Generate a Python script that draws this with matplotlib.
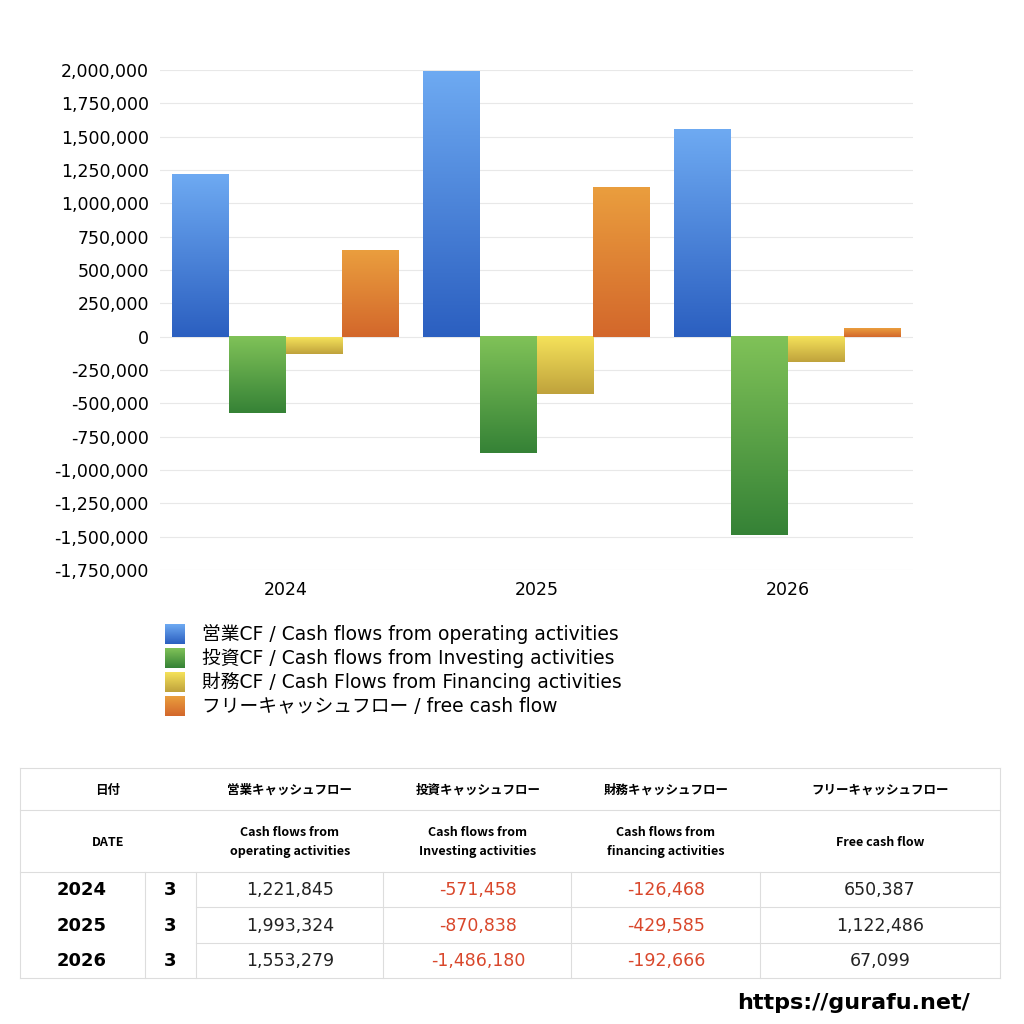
import matplotlib
matplotlib.use("Agg")
import matplotlib.pyplot as plt
import numpy as np
from matplotlib.colors import LinearSegmentedColormap
from matplotlib.lines import Line2D

plt.rcParams['font.family'] = ['DejaVu Sans', 'Noto Sans CJK JP']

years = ["2024", "2025", "2026"]
months = ["3", "3", "3"]
operating = [1221845, 1993324, 1553279]
investing = [-571458, -870838, -1486180]
financing = [-126468, -429585, -192666]
free_cf = [650387, 1122486, 67099]
series = [operating, investing, financing, free_cf]
legend_labels = ["営業CF / Cash flows from operating activities",
                 "投資CF / Cash flows from Investing activities",
                 "財務CF / Cash Flows from Financing activities",
                 "フリーキャッシュフロー / free cash flow"]
grads = [("#6eaaf2", "#2b5fc0"), ("#80c258", "#358236"),
         ("#f5e25a", "#bfa23c"), ("#ea9e3e", "#d3672b")]
hdr_jp = ["日付", "営業キャッシュフロー", "投資キャッシュフロー", "財務キャッシュフロー", "フリーキャッシュフロー"]
hdr_en = ["DATE", "Cash flows from\noperating activities", "Cash flows from\nInvesting activities",
          "Cash flows from\nfinancing activities", "Free cash flow"]

fig = plt.figure(figsize=(10.24, 10.24), dpi=100)
W = H = 1024
ax = fig.add_axes([160/W, 1-570/H, (913-160)/W, (570-70)/H])
x = np.arange(len(years))
bw = 0.226
for i, s in enumerate(series):
    bars = ax.bar(x + (i-1.5)*bw, s, bw, color="none", zorder=3)
    cmap = LinearSegmentedColormap.from_list("g", [grads[i][1], grads[i][0]])
    for b in bars:
        x0, y0, w, h = b.get_x(), b.get_y(), b.get_width(), b.get_height()
        y1 = y0 + h
        grad = np.linspace(0, 1, 256).reshape(-1, 1)
        ax.imshow(grad, cmap=cmap, aspect='auto', origin='lower',
                  extent=[x0, x0+w, min(y0, y1), max(y0, y1)], zorder=3)
ax.set_xlim(-0.5, 2.5)
ax.set_ylim(-1750000, 2000000)
ticks = np.arange(-1750000, 2000001, 250000)
ax.set_yticks(ticks)
ax.set_yticklabels([f"{t:,}" for t in ticks], fontsize=12.5)
ax.set_xticks(x)
ax.set_xticklabels(years, fontsize=12.5)
ax.grid(axis='y', color="#e8e8e8", lw=0.8, zorder=0)
for sp in ax.spines.values():
    sp.set_visible(False)
ax.tick_params(length=0, pad=8)
ax.set_aspect('auto')

# legend
for i, lab in enumerate(legend_labels):
    yc = 634 + i*24
    cmap = LinearSegmentedColormap.from_list("g", [grads[i][1], grads[i][0]])
    lax = fig.add_axes([165/W, 1-(yc+10)/H, 20/W, 20/H])
    lax.imshow(np.linspace(0, 1, 64).reshape(-1, 1), cmap=cmap, aspect='auto', origin='lower')
    lax.axis('off')
    fig.text(202/W, 1-yc/H, lab, fontsize=13.5, va='center', ha='left')

# table
def hl(y, x0=20, x1=1000):
    fig.add_artist(Line2D([x0/W, x1/W], [1-y/H, 1-y/H], color="#dddddd", lw=0.8))
def vl(xp, y0, y1):
    fig.add_artist(Line2D([xp/W, xp/W], [1-y0/H, 1-y1/H], color="#dddddd", lw=0.8))
for y in [768, 810, 872, 978]:
    hl(y)
hl(907, 196); hl(943, 196)
vl(20, 768, 978); vl(1000, 768, 978)
for xp in [145, 196, 383, 571, 760]:
    vl(xp, 872, 978)
centers = [108, 290, 478, 666, 880]
for c, t in zip(centers, hdr_jp):
    fig.text(c/W, 1-790/H, t, fontsize=9, weight='bold', ha='center', va='center',
             family=['Noto Sans CJK JP'])
for c, t in zip(centers, hdr_en):
    fig.text(c/W, 1-842/H, t, fontsize=9, weight='bold', ha='center', va='center', linespacing=1.5,
             family=['Noto Sans CJK JP'])
rows_y = [890, 926, 961]
for r in range(3):
    yy = 1-rows_y[r]/H
    fig.text(82/W, yy, years[r], fontsize=13, weight='bold', ha='center', va='center')
    fig.text(170/W, yy, months[r], fontsize=13, weight='bold', ha='center', va='center')
    for j, s in enumerate(series):
        v = s[r]
        fig.text([290, 478, 666, 880][j]/W, yy, f"{v:,}", fontsize=12.5, ha='center', va='center',
                 color="#d9472b" if v < 0 else "#222222")

fig.text(970/W, 1-1003/H, "https://gurafu.net/", fontsize=16, weight='bold', ha='right', va='center')

fig.savefig("out.png", dpi=100, facecolor="white")
